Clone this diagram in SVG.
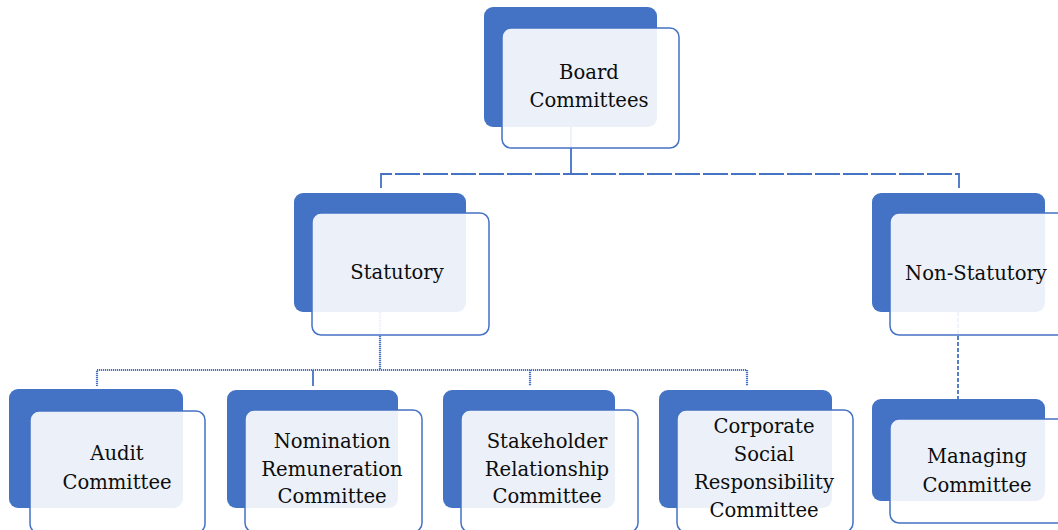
<svg xmlns="http://www.w3.org/2000/svg" width="1058" height="530" viewBox="0 0 1058 530">
<style>
.back{fill:#4472C4}
.front{fill:#FFFFFF;fill-opacity:0.9;stroke:#4472C4;stroke-width:1.5}
text{font-family:"DejaVu Serif","Liberation Serif",serif;font-size:19.6px;fill:#0d0d0d;text-anchor:middle}
.c{fill:none;stroke:#4472C4;stroke-width:1.8}
.d1{stroke-dasharray:25,3}
.d2{stroke-dasharray:1.2,0.8;stroke-width:2.2}
.d3{stroke-dasharray:4,2}
</style>
<rect width="1058" height="530" fill="#FFFFFF"/>
<g id="connectors">
<path class="c" d="M571,127 V174"/>
<path class="c d1" d="M381,188 V174 H959 V188"/>
<path class="c d2" d="M380,312 V370"/>
<path class="c d2" d="M97,386 V370 H747 V386"/>
<path class="c" d="M313,370 V386"/>
<path class="c d2" d="M530,370 V386"/>
<path class="c d3" d="M958,312 V399"/>
</g>
<g id="board">
<rect class="back" x="484" y="7" width="173" height="120" rx="9"/>
<rect class="front" x="502" y="28" width="177" height="120" rx="9"/>
<text x="589" y="79">Board</text>
<text x="589" y="107">Committees</text>
</g>
<g id="statutory">
<rect class="back" x="294" y="193" width="172" height="119" rx="9"/>
<rect class="front" x="312" y="213" width="177" height="122" rx="9"/>
<text x="397" y="279">Statutory</text>
</g>
<g id="non-statutory">
<rect class="back" x="872" y="193" width="173" height="119" rx="9"/>
<rect class="front" x="890" y="213" width="177" height="122" rx="9"/>
<text x="976" y="280">Non-Statutory</text>
</g>
<g id="audit">
<rect class="back" x="9" y="389" width="174" height="119" rx="9"/>
<rect class="front" x="30" y="411" width="175" height="122" rx="9"/>
<text x="117" y="460">Audit</text>
<text x="117" y="489">Committee</text>
</g>
<g id="nomination">
<rect class="back" x="227" y="390" width="171" height="118" rx="9"/>
<rect class="front" x="245" y="410" width="177" height="122" rx="9"/>
<text x="332" y="448">Nomination</text>
<text x="332" y="476">Remuneration</text>
<text x="332" y="503">Committee</text>
</g>
<g id="stakeholder">
<rect class="back" x="443" y="390" width="172" height="118" rx="9"/>
<rect class="front" x="461" y="410" width="177" height="122" rx="9"/>
<text x="547" y="448">Stakeholder</text>
<text x="547" y="476">Relationship</text>
<text x="547" y="503">Committee</text>
</g>
<g id="csr">
<rect class="back" x="659" y="390" width="173" height="118" rx="9"/>
<rect class="front" x="677" y="410" width="176" height="122" rx="9"/>
<text x="764" y="433">Corporate</text>
<text x="764" y="461">Social</text>
<text x="764" y="489">Responsibility</text>
<text x="764" y="517">Committee</text>
</g>
<g id="managing">
<rect class="back" x="872" y="399" width="173" height="102" rx="9"/>
<rect class="front" x="890" y="419" width="177" height="104" rx="9"/>
<text x="977" y="463">Managing</text>
<text x="977" y="492">Committee</text>
</g>
</svg>
